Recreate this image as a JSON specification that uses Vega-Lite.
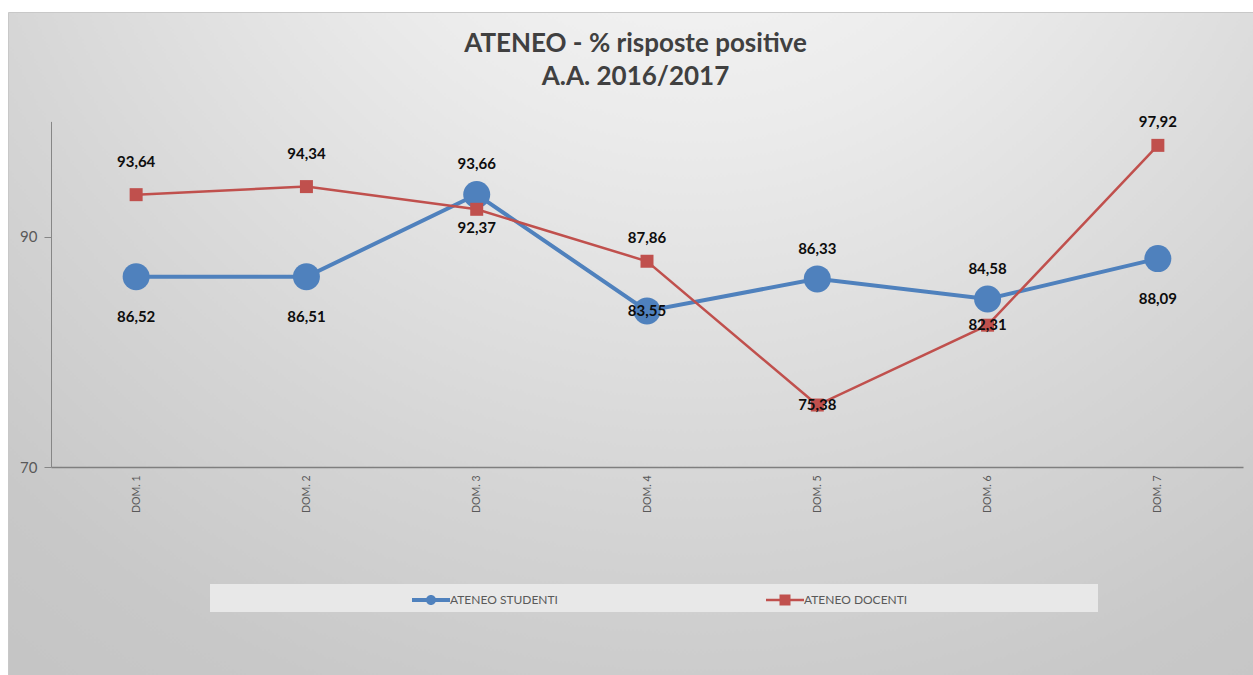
{
  "$schema": "https://vega.github.io/schema/vega-lite/v6.json",
  "autosize": {"type": "none"},
  "width": 1245,
  "height": 663,
  "padding": {"left": 8, "top": 12, "right": 0, "bottom": 0},
  "background": "#ffffff",
  "view": {
    "fill": {
      "gradient": "radial",
      "x1": 0.55, "y1": 0.03, "r1": 0,
      "x2": 0.55, "y2": 0.03, "r2": 1,
      "stops": [
        {"offset": 0, "color": "#fbfbfb"},
        {"offset": 0.3, "color": "#ebebeb"},
        {"offset": 0.6, "color": "#d5d5d5"},
        {"offset": 0.8, "color": "#c8c8c8"},
        {"offset": 1, "color": "#c2c2c2"}
      ]
    },
    "stroke": "#c8c8c8",
    "strokeWidth": 1
  },
  "config": {
    "font": "Lato",
    "locale": {"number": {"decimal": ",", "thousands": ".", "grouping": [3], "currency": ["€", ""]}}
  },
  "title": {
    "text": ["ATENEO - % risposte positive", "A.A. 2016/2017"],
    "anchor": "middle",
    "orient": "top",
    "offset": -78,
    "dx": 5,
    "fontSize": 26,
    "fontWeight": "bold",
    "font": "Lato",
    "color": "#404040",
    "lineHeight": 33
  },
  "data": {
    "values": [
      {"dom": "DOM. 1", "serie": "ATENEO STUDENTI", "val": 86.52},
      {"dom": "DOM. 2", "serie": "ATENEO STUDENTI", "val": 86.51},
      {"dom": "DOM. 3", "serie": "ATENEO STUDENTI", "val": 93.66},
      {"dom": "DOM. 4", "serie": "ATENEO STUDENTI", "val": 83.55},
      {"dom": "DOM. 5", "serie": "ATENEO STUDENTI", "val": 86.33},
      {"dom": "DOM. 6", "serie": "ATENEO STUDENTI", "val": 84.58},
      {"dom": "DOM. 7", "serie": "ATENEO STUDENTI", "val": 88.09},
      {"dom": "DOM. 1", "serie": "ATENEO DOCENTI", "val": 93.64},
      {"dom": "DOM. 2", "serie": "ATENEO DOCENTI", "val": 94.34},
      {"dom": "DOM. 3", "serie": "ATENEO DOCENTI", "val": 92.37},
      {"dom": "DOM. 4", "serie": "ATENEO DOCENTI", "val": 87.86},
      {"dom": "DOM. 5", "serie": "ATENEO DOCENTI", "val": 75.38},
      {"dom": "DOM. 6", "serie": "ATENEO DOCENTI", "val": 82.31},
      {"dom": "DOM. 7", "serie": "ATENEO DOCENTI", "val": 97.92}
    ]
  },
  "encoding": {
    "x": {
      "field": "dom", "type": "ordinal", "sort": null,
      "scale": {"type": "point", "padding": 0.5, "range": [43, 1235]},
      "axis": {
        "title": null, "offset": -208, "labelAngle": -90, "labelFontSize": 10.5,
        "labelColor": "#595959", "labelPadding": 8, "ticks": false,
        "domainColor": "#7f7f7f", "domainWidth": 1.5, "grid": false, "labelFont": "Lato"
      }
    },
    "y": {
      "field": "val", "type": "quantitative",
      "scale": {"domain": [70, 100], "range": [455, 109.4], "nice": false, "zero": false},
      "axis": {
        "title": null, "offset": -43, "values": [70, 90], "labelFontSize": 15,
        "labelColor": "#595959", "tickColor": "#868686", "tickSize": 7, "labelPadding": 7,
        "domainColor": "#868686", "grid": false, "labelFont": "Lato"
      }
    }
  },
  "layer": [
    {
      "transform": [{"filter": "datum.serie === 'ATENEO STUDENTI'"}],
      "mark": {"type": "line", "strokeWidth": 4},
      "encoding": {
        "color": {
          "field": "serie", "type": "nominal",
          "scale": {"domain": ["ATENEO STUDENTI", "ATENEO DOCENTI"], "range": ["#4F81BD", "#C0504D"]},
          "legend": {
            "title": "\u00a0",
            "titleOrient": "left",
            "titlePadding": 196,
            "orient": "none",
            "legendX": 202,
            "legendY": 572,
            "direction": "horizontal",
            "columns": 2,
            "columnPadding": 208,
            "padding": 6,
            "fillColor": "#e8e8e8",
            "strokeColor": null,
            "symbolSize": 400,
            "symbolOffset": 9,
            "symbolStrokeWidth": 0,
            "labelOffset": 9,
            "labelFontSize": 12,
            "labelFont": "Lato",
            "labelColor": "#595959",
            "labelLimit": 1000,
            "labelExpr": "datum.value === 'ATENEO DOCENTI' ? pad(datum.label, 74, '\u00a0') + '\u200b' : datum.label",
            "encode": {
              "symbols": {
                "update": {
                  "shape": [
                    {"test": "datum.value === 'ATENEO STUDENTI'", "value": "M-1.9,-0.2L1.9,-0.2L1.9,0.2L-1.9,0.2Z M0.5,0A0.5,0.5,0,1,1,-0.5,0A0.5,0.5,0,1,1,0.5,0Z"},
                    {"value": "M-1.9,-0.13L1.9,-0.13L1.9,0.13L-1.9,0.13Z M-0.55,-0.55L0.55,-0.55L0.55,0.55L-0.55,0.55Z"}
                  ],
                  "fill": [
                    {"test": "datum.value === 'ATENEO STUDENTI'", "value": "#4F81BD"},
                    {"value": "#C0504D"}
                  ],
                  "strokeWidth": {"value": 0},
                  "opacity": {"value": 1}
                }
              }
            }
          }
        }
      }
    },
    {
      "transform": [{"filter": "datum.serie === 'ATENEO STUDENTI'"}],
      "mark": {"type": "point", "shape": "circle", "filled": true, "size": 729, "color": "#4F81BD", "opacity": 1}
    },
    {
      "transform": [{"filter": "datum.serie === 'ATENEO DOCENTI'"}],
      "mark": {"type": "line", "strokeWidth": 2.5},
      "encoding": {"color": {"field": "serie", "type": "nominal"}}
    },
    {
      "transform": [{"filter": "datum.serie === 'ATENEO DOCENTI'"}],
      "mark": {"type": "point", "shape": "square", "filled": true, "size": 169, "color": "#C0504D", "opacity": 1}
    },
    {
      "transform": [{"filter": "datum.serie === 'ATENEO STUDENTI' && indexof(['DOM. 1','DOM. 2','DOM. 7'], datum.dom) >= 0"}],
      "mark": {"type": "text", "dy": 40, "fontSize": 15, "fontWeight": "bold", "color": "#0d0d0d"},
      "encoding": {"text": {"field": "val", "type": "quantitative", "format": ".2f"}}
    },
    {
      "transform": [{"filter": "datum.serie === 'ATENEO STUDENTI' && indexof(['DOM. 3','DOM. 5','DOM. 6'], datum.dom) >= 0"}],
      "mark": {"type": "text", "dy": -30, "fontSize": 15, "fontWeight": "bold", "color": "#0d0d0d"},
      "encoding": {"text": {"field": "val", "type": "quantitative", "format": ".2f"}}
    },
    {
      "transform": [{"filter": "(datum.serie === 'ATENEO STUDENTI' && datum.dom === 'DOM. 4') || (datum.serie === 'ATENEO DOCENTI' && indexof(['DOM. 5','DOM. 6'], datum.dom) >= 0)"}],
      "mark": {"type": "text", "dy": 0, "fontSize": 15, "fontWeight": "bold", "color": "#0d0d0d"},
      "encoding": {"text": {"field": "val", "type": "quantitative", "format": ".2f"}}
    },
    {
      "transform": [{"filter": "datum.serie === 'ATENEO DOCENTI' && indexof(['DOM. 1','DOM. 2'], datum.dom) >= 0"}],
      "mark": {"type": "text", "dy": -33, "fontSize": 15, "fontWeight": "bold", "color": "#0d0d0d"},
      "encoding": {"text": {"field": "val", "type": "quantitative", "format": ".2f"}}
    },
    {
      "transform": [{"filter": "datum.serie === 'ATENEO DOCENTI' && indexof(['DOM. 4','DOM. 7'], datum.dom) >= 0"}],
      "mark": {"type": "text", "dy": -23, "fontSize": 15, "fontWeight": "bold", "color": "#0d0d0d"},
      "encoding": {"text": {"field": "val", "type": "quantitative", "format": ".2f"}}
    },
    {
      "transform": [{"filter": "datum.serie === 'ATENEO DOCENTI' && datum.dom === 'DOM. 3'"}],
      "mark": {"type": "text", "dy": 19, "fontSize": 15, "fontWeight": "bold", "color": "#0d0d0d"},
      "encoding": {"text": {"field": "val", "type": "quantitative", "format": ".2f"}}
    }
  ]
}
